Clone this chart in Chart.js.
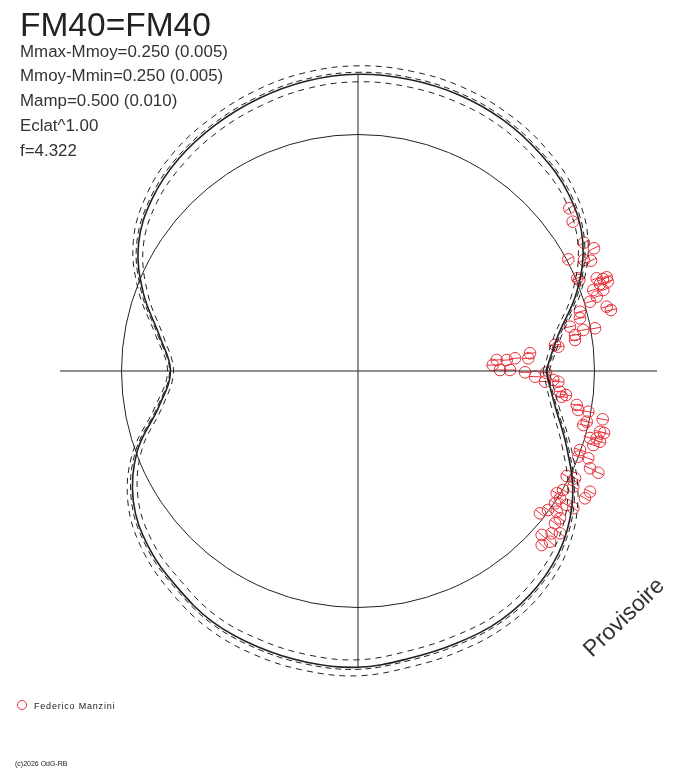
<!DOCTYPE html>
<html>
<head>
<meta charset="utf-8">
<title>FM40=FM40</title>
<script src="https://cdn.jsdelivr.net/npm/chart.js@4.4.1/dist/chart.umd.min.js"></script>
<style>
    html, body { margin: 0; padding: 0; background: #fff; }
    #wrap { width: 688px; height: 768px; }
</style>
</head>
<body>
<div id="wrap"><canvas id="graficaPolar" width="688" height="768"></canvas></div>
<script>
// ── DATA ──────────────────────────────────────────────────────
// phase angle in degrees (counter-clockwise, 0 = right) and radius in px from the centre
const curveAngle  = [0, 10, 20, 30, 40, 50, 60, 70, 80, 90, 100, 110, 120, 130, 140, 150, 160, 170, 180,
                     190, 200, 210, 220, 230, 240, 250, 260, 270, 280, 290, 300, 310, 320, 330, 340, 350, 360];
const curveRadius = [188, 203, 233, 259.5, 275, 283.5, 290, 294, 296, 296.7, 294.5, 290, 284.5, 278, 268.5, 253.5, 228.5, 201.5, 187.5,
                     202, 235, 259.5, 273.5, 281.8, 290, 293.5, 295.7, 296.3, 292, 289.5, 287, 280, 267.5, 248, 222, 200, 188];
const curveNear   = [189, 205, 235, 261.5, 277, 285.5, 292, 296, 298, 298.7, 296.5, 292, 286.5, 280, 270.5, 255.5, 230.5, 203, 188.5,
                     203.5, 237, 261.5, 275.5, 283.8, 292, 295.5, 297.7, 298.3, 294, 291.5, 289, 282, 269.5, 250, 224, 201.5, 189];
const curveOuter  = [191, 207, 238, 265.5, 282, 291.5, 298, 302.5, 304.5, 305.2, 303, 298.5, 292.5, 286, 275.5, 259.5, 233.5, 205.5, 190.5,
                     206, 240, 265.5, 280.5, 289.8, 298, 302, 304.2, 304.8, 300.5, 298, 295, 288, 274.5, 254, 227, 204, 191];
const curveInner  = [185, 199, 228, 254, 269, 276.5, 283, 286.5, 288.5, 289.2, 287, 282.5, 277.5, 271, 262.5, 248, 223.5, 197.5, 184.5,
                     198, 230, 254, 267.5, 274.8, 283, 286, 288.2, 288.8, 284.5, 282, 280, 273, 261.5, 242.5, 217, 196, 185];
const meanRadius  = 236.5;
const axisX = [-298, 299];
const axisY = [296.5, -297];

// observations (px from the centre, y up)
const obsX = [211.3, 214.7, 226, 236, 210.3, 226, 233, 219.3, 221.3, 238.7, 248.7, 242, 249.7, 235.3, 245.3, 238.7, 232,
              248.7, 253, 222, 222, 212, 225.3, 237, 217, 217, 197, 200.3, 172, 170.3, 157, 148.7, 138.7, 134.7, 142, 152,
              167, 177, 188, 195.3, 200.3, 187, 202, 208, 203.7, 218.7, 220.3, 230.3, 244.7, 228.7, 225.3, 242, 238.7, 242,
              235.3, 222, 220.3, 230.3, 232, 240.3, 208.7, 217, 215.3, 232, 198.7, 202, 227, 197, 208.7, 215.3, 182, 198.7,
              202, 197, 183.7, 193.7, 202, 183.7, 192, 246, 232, 205, 190, 245];
const obsY = [162.7, 149.3, 128.3, 122.7, 111.7, 111, 110.3, 92.7, 91, 92.7, 93.7, 87, 89.3, 81, 81, 74.3, 69.3,
              64.3, 61, 59.3, 52.7, 44.3, 41, 42.7, 36, 31, 26, 24.3, 17.7, 12.7, 12.7, 11, 11, 6, 1, 1,
              -1.3, -5.7, -1.7, -9, -10.7, -10.7, -20.7, -24, -25.7, -34, -39, -40.7, -48.3, -50.7, -54, -60.7, -67.3, -70.7,
              -74, -79, -85.7, -87.3, -97.3, -101.7, -105, -107.3, -115.7, -120.7, -122.3, -127.3, -127.3, -132.3, -134, -137.3, -142.3, -140.7,
              -147.3, -152.3, -164, -162.3, -162.3, -174, -170.7, -62, -67, -119, -139, 92];

const titleText   = 'FM40=FM40';
const headerLines = ['Mmax-Mmoy=0.250 (0.005)', 'Mmoy-Mmin=0.250 (0.005)', 'Mamp=0.500 (0.010)', 'Eclat^1.00', 'f=4.322'];
const observer    = 'Federico Manzini';
const footerText  = '(c)2026 OdG-RB';
const stampText   = 'Provisoire';

const ROJO  = '#e8323c';
const NEGRO = '#222222';

// ── POLAR -> XY ───────────────────────────────────────────────
function polar(angles, radii) {
    return angles.map((a, i) => {
        const t = a * Math.PI / 180;
        return { x: radii[i] * Math.cos(t), y: radii[i] * Math.sin(t) };
    });
}
const obsPoints   = obsX.map((x, i) => ({ x: x, y: obsY[i] }));
const obsRotation = obsX.map((x, i) => -Math.atan2(obsY[i], x) * 180 / Math.PI);

function lineSet(data, width, dash) {
    return {
        data: data, showLine: true, pointRadius: 0, borderColor: NEGRO,
        borderWidth: width, borderDash: dash, tension: 0.38, fill: false
    };
}

// ── TEXTS, MEAN CIRCLE ────────────────────────────────────────
const decorPlugin = {
    id: 'decor',
    beforeDatasetsDraw(chart) {
        const { ctx, scales: { x, y } } = chart;
        const cx = x.getPixelForValue(0), cy = y.getPixelForValue(0);
        const r = x.getPixelForValue(meanRadius) - cx;
        ctx.save();
        ctx.beginPath();
        ctx.arc(cx, cy, r, 0, Math.PI * 2);
        ctx.strokeStyle = NEGRO;
        ctx.lineWidth = 1;
        ctx.stroke();
        ctx.restore();
    },
    afterDraw(chart) {
        const ctx = chart.ctx;
        ctx.save();
        ctx.fillStyle = NEGRO;
        ctx.textBaseline = 'alphabetic';
        ctx.font = '33.5px "Liberation Sans", Arial, sans-serif';
        ctx.fillText(titleText, 20, 36);
        ctx.fillStyle = '#333';
        ctx.font = '16.9px "Liberation Sans", Arial, sans-serif';
        headerLines.forEach((t, i) => ctx.fillText(t, 20, 56.7 + i * 24.7));

        // legend
        ctx.beginPath();
        ctx.arc(22, 705, 4.5, 0, Math.PI * 2);
        ctx.strokeStyle = ROJO;
        ctx.lineWidth = 1;
        ctx.stroke();
        ctx.fillStyle = NEGRO;
        ctx.font = '9px "Liberation Sans", Arial, sans-serif';
        ctx.letterSpacing = '0.8px';
        ctx.fillText(observer, 34, 709);
        ctx.letterSpacing = '0px';
        ctx.font = '7px "Liberation Sans", Arial, sans-serif';
        ctx.fillText(footerText, 15, 766);

        // stamp
        ctx.translate(592, 658);
        ctx.rotate(-44 * Math.PI / 180);
        ctx.fillStyle = '#333';
        ctx.font = '23px "Liberation Sans", Arial, sans-serif';
        ctx.fillText(stampText, 0, 0);
        ctx.restore();
    }
};

// ── CHART ─────────────────────────────────────────────────────
new Chart(document.getElementById('graficaPolar'), {
    type: 'scatter',
    data: {
        datasets: [
            lineSet([{ x: axisX[0], y: 0 }, { x: axisX[1], y: 0 }], 1, []),
            lineSet([{ x: 0, y: axisY[0] }, { x: 0, y: axisY[1] }], 1, []),
            lineSet(polar(curveAngle, curveOuter), 1, [6, 5]),
            lineSet(polar(curveAngle, curveInner), 1, [6, 5]),
            lineSet(polar(curveAngle, curveNear), 1, [6, 4]),
            lineSet(polar(curveAngle, curveRadius), 1.6, []),
            {
                data: obsPoints, pointStyle: 'circle', pointRadius: 5.8,
                pointBorderColor: ROJO, pointBackgroundColor: 'rgba(0,0,0,0)', pointBorderWidth: 1
            },
            {
                data: obsPoints, pointStyle: 'line', pointRadius: 5.8, pointRotation: obsRotation,
                pointBorderColor: ROJO, pointBorderWidth: 1
            }
        ]
    },
    options: {
        responsive: false,
        animation: false,
        layout: { padding: 0, autoPadding: false },
        plugins: { legend: { display: false }, tooltip: { enabled: false }, title: { display: false } },
        scales: {
            x: { type: 'linear', min: -358, max: 330, display: false },
            y: { type: 'linear', min: -397, max: 371, display: false }
        }
    },
    plugins: [decorPlugin]
});
</script>
</body>
</html>
